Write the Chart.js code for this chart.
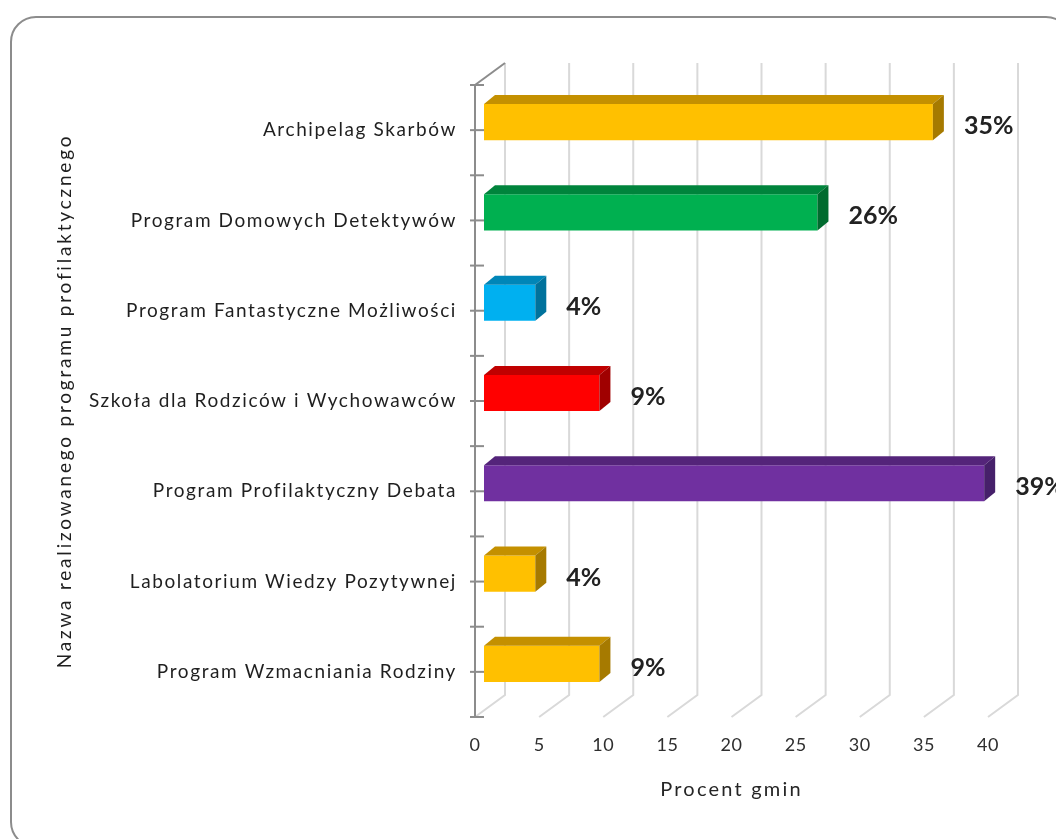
<!DOCTYPE html>
<html>
<head>
<meta charset="utf-8">
<script src="https://cdn.jsdelivr.net/npm/chart.js@4.4.1/dist/chart.umd.min.js"></script>
<style>
  html, body { margin: 0; padding: 0; background: #fff; overflow: hidden; }
  #frame { position: absolute; left: 10px; top: 16px; width: 1062px; height: 832px;
           border: 2px solid #8c8c8c; border-radius: 26px; box-sizing: border-box; }
  #wrap { position: absolute; left: 0; top: 0; width: 1056px; height: 839px; }
</style>
</head>
<body>
<div id="frame"></div>
<div id="wrap"><canvas id="chart" width="1056" height="839"></canvas></div>
<script>
const programs = [
  "Archipelag Skarbów",
  "Program Domowych Detektywów",
  "Program Fantastyczne Możliwości",
  "Szkoła dla Rodziców i Wychowawców",
  "Program Profilaktyczny Debata",
  "Labolatorium Wiedzy Pozytywnej",
  "Program Wzmacniania Rodziny"
];
const percents = [35, 26, 4, 9, 39, 4, 9];
const frontColors = ["#FFC000", "#00B050", "#00B0F0", "#FF0000", "#7030A0", "#FFC000", "#FFC000"];
const topColors = ["#C49000", "#00843C", "#0086B8", "#C00000", "#54247A", "#C49000", "#C49000"];
const sideColors = ["#A67A00", "#006B2E", "#00729C", "#A00000", "#46206A", "#A67A00", "#A67A00"];
const xMin = 0;
const xMax = 40;
const xStep = 5;

// oblique 3D look: back wall offset, bar position inside the depth, bar depth
const wallDepth = { x: 30, y: -22 };
const barShift = { x: 9, y: -8 };
const barDepth = { x: 11, y: -9 };

const font = "Lato";

// Excel draws its text a bit loosely spaced; canvas letterSpacing per scale
function spaceText(scale, labelSpacing, titleSpacing) {
  if (scale.spacedText) return;
  scale.spacedText = true;
  const drawLabels = scale.drawLabels;
  const drawTitle = scale.drawTitle;
  scale.drawLabels = function(area) {
    this.ctx.letterSpacing = labelSpacing;
    drawLabels.call(this, area);
    this.ctx.letterSpacing = "0px";
  };
  scale.drawTitle = function() {
    this.ctx.letterSpacing = titleSpacing;
    drawTitle.call(this);
    this.ctx.letterSpacing = "0px";
  };
}

const wallsPlugin = {
  id: "walls",
  beforeDatasetsDraw(chart) {
    const ctx = chart.ctx;
    const xs = chart.scales.x;
    const ys = chart.scales.y;
    const { top, bottom, left } = chart.chartArea;
    ctx.save();
    // back wall and floor grid lines
    ctx.strokeStyle = "#d9d9d9";
    ctx.lineWidth = 2;
    for (let v = xMin; v <= xMax; v += xStep) {
      const px = xs.getPixelForValue(v);
      ctx.beginPath();
      ctx.moveTo(px + wallDepth.x, top + wallDepth.y);
      ctx.lineTo(px + wallDepth.x, bottom + wallDepth.y);
      ctx.lineTo(px, bottom);
      ctx.stroke();
    }
    // left wall edge and category axis
    ctx.strokeStyle = "#8c8c8c";
    ctx.beginPath();
    ctx.moveTo(left, top);
    ctx.lineTo(left + wallDepth.x, top + wallDepth.y);
    ctx.stroke();
    ctx.beginPath();
    ctx.moveTo(left, top);
    ctx.lineTo(left, bottom);
    ctx.stroke();
    // tick marks at category centres and boundaries
    const marks = [top, bottom];
    programs.forEach((p, i) => {
      const c = ys.getPixelForValue(i);
      marks.push(c);
      if (i < programs.length - 1) {
        marks.push((c + ys.getPixelForValue(i + 1)) / 2);
      }
    });
    marks.forEach(y => {
      ctx.beginPath();
      ctx.moveTo(left - 5, y);
      ctx.lineTo(left + 9, y);
      ctx.stroke();
    });
    ctx.restore();
  },
  beforeDatasetDraw(chart) {
    chart.ctx.save();
    chart.ctx.translate(barShift.x, barShift.y);
  },
  afterDatasetDraw(chart, args) {
    const ctx = chart.ctx;
    args.meta.data.forEach((bar, i) => {
      const { x, y, base, height } = bar.getProps(["x", "y", "base", "height"], true);
      const t = y - height / 2;
      const b = y + height / 2;
      ctx.fillStyle = topColors[i];
      ctx.beginPath();
      ctx.moveTo(base, t);
      ctx.lineTo(x, t);
      ctx.lineTo(x + barDepth.x, t + barDepth.y);
      ctx.lineTo(base + barDepth.x, t + barDepth.y);
      ctx.closePath();
      ctx.fill();
      ctx.fillStyle = sideColors[i];
      ctx.beginPath();
      ctx.moveTo(x, t);
      ctx.lineTo(x + barDepth.x, t + barDepth.y);
      ctx.lineTo(x + barDepth.x, b + barDepth.y);
      ctx.lineTo(x, b);
      ctx.closePath();
      ctx.fill();
    });
    ctx.restore();
  },
  afterDatasetsDraw(chart) {
    const ctx = chart.ctx;
    const meta = chart.getDatasetMeta(0);
    ctx.save();
    ctx.font = "bold 25px " + font;
    ctx.fillStyle = "#222222";
    ctx.textBaseline = "middle";
    ctx.textAlign = "left";
    meta.data.forEach((bar, i) => {
      ctx.fillText(percents[i] + "%", bar.x + 40, bar.y - 4);
    });
    ctx.restore();
  }
};

new Chart(document.getElementById("chart"), {
  type: "bar",
  data: {
    labels: programs,
    datasets: [{
      data: percents,
      backgroundColor: frontColors,
      borderWidth: 0,
      barPercentage: 0.4,
      categoryPercentage: 1,
      clip: false
    }]
  },
  options: {
    indexAxis: "y",
    responsive: false,
    animation: false,
    layout: { padding: { top: 85, right: 68, bottom: 0, left: 0 } },
    plugins: {
      legend: { display: false },
      tooltip: { enabled: false }
    },
    scales: {
      x: {
        type: "linear",
        min: xMin,
        max: xMax,
        ticks: { stepSize: xStep, color: "#2e2e2e", padding: 9, font: { family: font, size: 18 } },
        grid: { display: false },
        border: { display: false },
        title: {
          display: true,
          text: "Procent gmin",
          color: "#262626",
          font: { family: font, size: 20 },
          padding: { bottom: 37 }
        },
        afterFit(scale) {
          scale.height = 122;
          spaceText(scale, "0.5px", "2.2px");
        }
      },
      y: {
        ticks: { color: "#1f1f1f", padding: 10, font: { family: font, size: 19 } },
        grid: { display: false },
        border: { display: false },
        title: {
          display: true,
          text: "Nazwa realizowanego programu profilaktycznego",
          color: "#1f1f1f",
          font: { family: font, size: 19 },
          padding: { top: 53 }
        },
        afterFit(scale) {
          scale.width = 475;
          spaceText(scale, "1.6px", "2.8px");
        }
      }
    }
  },
  plugins: [wallsPlugin]
});
</script>
</body>
</html>
